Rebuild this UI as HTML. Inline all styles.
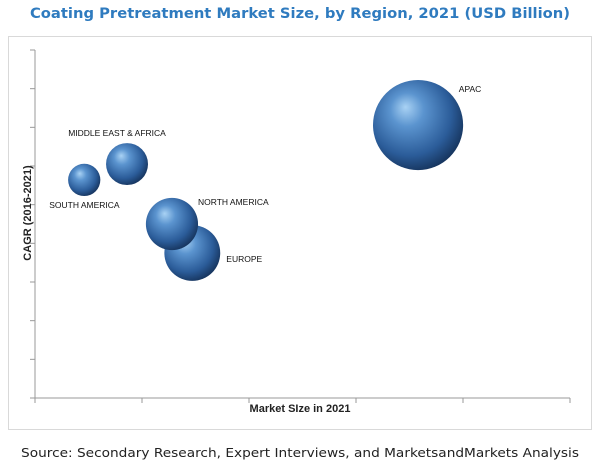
<!DOCTYPE html>
<html><head><meta charset="utf-8"><style>
body{margin:0;background:#fff;width:600px;height:463px;overflow:hidden;font-family:"Liberation Sans",sans-serif}
</style></head><body>
<svg width="600" height="463" xmlns="http://www.w3.org/2000/svg">
<defs>
<radialGradient id="g" cx="0.42" cy="0.4" r="0.62" fx="0.36" fy="0.3">
<stop offset="0" stop-color="#a9d2f4"/>
<stop offset="0.3" stop-color="#5b94cf"/>
<stop offset="0.75" stop-color="#2b5c99"/>
<stop offset="1" stop-color="#173660"/>
</radialGradient>
</defs>
<text x="300" y="18" text-anchor="middle" font-family="DejaVu Sans, sans-serif" font-size="14.5" font-weight="bold" fill="#2f7bbf" textLength="540" lengthAdjust="spacingAndGlyphs">Coating Pretreatment Market Size, by Region, 2021 (USD Billion)</text>
<rect x="8.5" y="36.5" width="583" height="393" fill="none" stroke="#d9d9d9"/>
<g id="axes"></g>
<g id="bubbles"></g>
<text x="300" y="412" text-anchor="middle" font-size="11" font-weight="bold" fill="#222">Market SIze in 2021</text>
<text transform="translate(31,213) rotate(-90)" text-anchor="middle" font-size="11" font-weight="bold" fill="#222">CAGR (2016-2021)</text>
<text x="300" y="457" text-anchor="middle" font-family="DejaVu Sans, sans-serif" font-size="12" fill="#222" textLength="558" lengthAdjust="spacingAndGlyphs">Source: Secondary Research, Expert Interviews, and MarketsandMarkets Analysis</text>
</svg>
<script>
const regions=["APAC","MIDDLE EAST & AFRICA","SOUTH AMERICA","EUROPE","NORTH AMERICA"];
const marketSize=[3.58,0.86,0.46,1.47,1.28];
const cagr=[7.06,6.05,5.64,3.75,4.5];
const bubbleSize=[20.3,4.4,2.6,7.8,6.8];
const xTicks=[0,1,2,3,4,5];
const yTicks=[0,1,2,3,4,5,6,7,8,9];
const labelOffsets=[[52,-33,"middle"],[-10,-28,"middle"],[-35,28,"start"],[34,9,"start"],[26,-19,"start"]];
const NS="http://www.w3.org/2000/svg";
const X0=35,X1=570,Y0=398,Y1=50;
const xs=v=>X0+v*(X1-X0)/5, ys=v=>Y0-v*(Y0-Y1)/9, rs=v=>10*Math.sqrt(v);
function mk(t,a,p){const e=document.createElementNS(NS,t);for(const k in a)e.setAttribute(k,a[k]);p.appendChild(e);return e;}
const ax=document.getElementById("axes");
let l=mk("line",{x1:X0,y1:Y0,x2:X1,y2:Y0,stroke:"#999"},ax);


l=mk("line",{x1:X0,y1:Y0,x2:X0,y2:Y1,stroke:"#999"},ax);


xTicks.forEach(t=>{const e=mk("line",{x1:xs(t),y1:Y0,x2:xs(t),y2:Y0+5,stroke:"#999"},ax);

});
yTicks.forEach(t=>{const e=mk("line",{x1:X0-5,y1:ys(t),x2:X0,y2:ys(t),stroke:"#999"},ax);

});
const bg=document.getElementById("bubbles");
regions.forEach((r,i)=>{
const cx=xs(marketSize[i]),cy=ys(cagr[i]);
const c=mk("circle",{cx:cx,cy:cy,r:rs(bubbleSize[i]),fill:"url(#g)"},bg);


const o=labelOffsets[i];
const t=mk("text",{x:cx+o[0],y:cy+o[1],"font-size":"8.5","text-anchor":o[2],fill:"#111"},bg);
t.textContent=r;


});
</script>
</body></html>
